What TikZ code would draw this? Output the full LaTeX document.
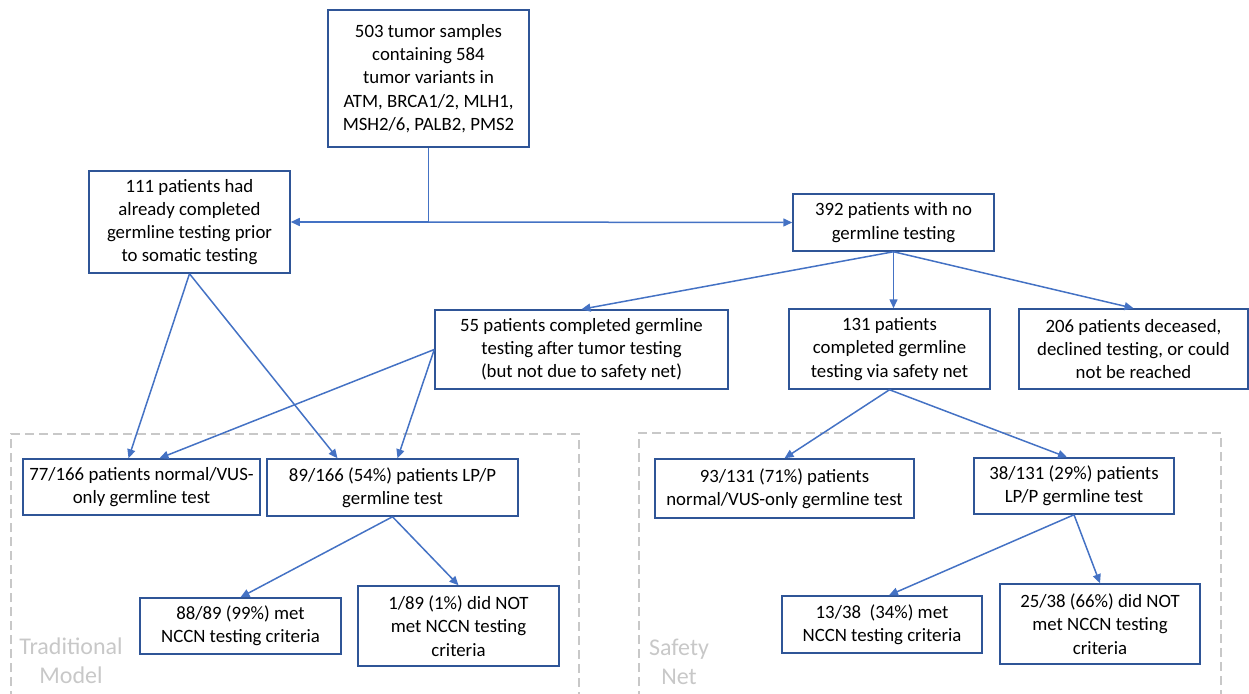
\documentclass[tikz,border=0pt]{standalone}
\usepackage{fontspec}
\setmainfont{Carlito}
\usepackage{xcolor}
\definecolor{boxline}{RGB}{47,85,151}
\definecolor{arrline}{RGB}{68,114,196}
\definecolor{frameg}{RGB}{200,200,200}
\usetikzlibrary{arrows.meta,calc}

\begin{document}
\begin{tikzpicture}[
  x=1pt, y=-1pt,
  font=\fontsize{18.8}{23.2}\selectfont,
  box/.style={draw=boxline, line width=1.5pt, align=center, inner sep=2pt, fill=white},
  arr/.style={-{Triangle[length=9pt,width=8pt]}, line width=1.5pt, arrline},
  frame/.style={draw=frameg, line width=1.5pt, dash pattern=on 9pt off 5pt},
  grouplab/.style={font=\fontsize{24}{29}\selectfont, text=frameg, align=center, inner sep=0pt}]
\useasboundingbox (0,0) rectangle (1249,693);
% dashed groups, open at the bottom
\draw[frame] (11,700) |- (579,434) -- (579,700);
\draw[frame] (639,700) |- (1221,433) -- (1221,700);
\node[grouplab] (tradlab) at (71,661) {Traditional\\Model};
\node[grouplab] (safelab) at (679,662) {Safety\\Net};
% first levels
\node[box, minimum width=201pt, minimum height=137pt] (top) at (428.5,78.5)
  {503 tumor samples\\containing 584\\tumor variants in\\ATM, BRCA1/2, MLH1,\\MSH2/6, PALB2, PMS2};
\node[box, minimum width=201pt, minimum height=102pt] (pre) at (189.5,222)
  {111 patients had\\already completed\\germline testing prior\\to somatic testing};
\node[box, minimum width=201pt, minimum height=57pt] (none) at (893.5,222.5)
  {392 patients with no\\germline testing};
\node[box, minimum width=293pt, minimum height=79pt] (after) at (581.5,349.5)
  {55 patients completed germline\\testing after tumor testing\\(but not due to safety net)};
\node[box, minimum width=201pt, minimum height=80pt] (safety) at (889.5,349)
  {131 patients\\completed germline\\testing via safety net};
\node[box, minimum width=229pt, minimum height=80pt] (lost) at (1133.5,349)
  {206 patients deceased,\\declined testing, or could\\not be reached};
% traditional model
\node[box, minimum width=237pt, minimum height=56pt] (tnorm) at (141.5,487)
  {77/166 patients normal/VUS-\\only germline test};
\node[box, minimum width=251pt, minimum height=57pt] (tlpp) at (392.5,487.5)
  {89/166 (54\%) patients LP/P\\germline test};
\node[box, minimum width=201pt, minimum height=56pt] (tmet) at (240.5,626)
  {88/89 (99\%) met\\NCCN testing criteria};
\node[box, minimum width=201pt, minimum height=80pt] (tnot) at (458.5,626)
  {1/89 (1\%) did NOT\\met NCCN testing\\criteria};
% safety net
\node[box, minimum width=259pt, minimum height=59pt] (snorm) at (784.5,488.5)
  {93/131 (71\%) patients\\normal/VUS-only germline test};
\node[box, minimum width=200pt, minimum height=56pt] (slpp) at (1074,486)
  {38/131 (29\%) patients\\LP/P germline test};
\node[box, minimum width=200pt, minimum height=57pt] (smet) at (882,624.5)
  {13/38~~(34\%) met\\NCCN testing criteria};
\node[box, minimum width=200pt, minimum height=80pt] (snot) at (1100,624)
  {25/38 (66\%) did NOT\\met NCCN testing\\criteria};
% connectors
\coordinate (split) at (top.south |- pre.east);
\draw[line width=1.5pt, arrline] (top.south) -- (split);
\draw[arr] (split) -- (pre.east);
\draw[arr] (split) -- (none.west);
\draw[arr] (none.south) -- (after.north);
\draw[arr] (none.south) -- (none.south |- safety.north);
\draw[arr] (none.south) -- (lost.north);
\draw[arr] (pre.south) -- ($(tnorm.north)+(-13,0)$);
\draw[arr] (pre.south) -- ($(tlpp.north)+(-55,0)$);
\draw[arr] (after.west) -- ($(tnorm.north)+(18,0)$);
\draw[arr] (after.west) -- ($(tlpp.north)+(5,0)$);
\draw[arr] (tlpp.south) -- (tmet.north);
\draw[arr] (tlpp.south) -- (tnot.north);
\draw[arr] (safety.south) -- (snorm.north);
\draw[arr] (safety.south) -- ($(slpp.north)+(-7,0)$);
\draw[arr] (slpp.south) -- ($(smet.north)+(7,0)$);
\draw[arr] (slpp.south) -- (snot.north);
\end{tikzpicture}
\end{document}
